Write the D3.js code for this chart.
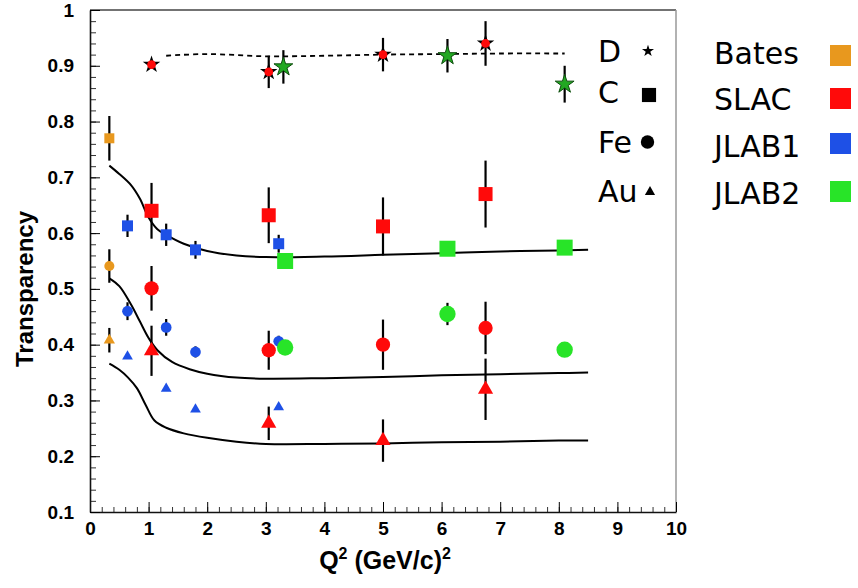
<!DOCTYPE html>
<html><head><meta charset="utf-8">
<script src="https://cdn.jsdelivr.net/npm/d3@7"></script>
<style>html,body{margin:0;padding:0;background:#fff;}svg{display:block;}</style>
</head><body>
<svg id="chart" width="858" height="588"></svg>
<script>
// ---------- data ----------
const xTickLabels = ["0","1","2","3","4","5","6","7","8","9","10"];
const yTickLabels = ["0.1","0.2","0.3","0.4","0.5","0.6","0.7","0.8","0.9","1"];

// [Q2, transparency, error]
const D_SLAC  = [[1.05,0.902,0],[3.05,0.889,0.029],[5.0,0.920,0.030],[6.75,0.940,0.040]];
const D_JLAB2 = [[3.3,0.898,0.030],[6.1,0.918,0.030],[8.1,0.867,0.033]];
const C_Bates = [[0.33,0.770,0.040]];
const C_SLAC  = [[1.05,0.640,0.050],[3.05,0.632,0.050],[5.0,0.612,0.052],[6.75,0.670,0.060]];
const C_JLAB1 = [[0.64,0.613,0.020],[1.3,0.597,0.020],[1.8,0.570,0.016],[3.22,0.581,0.016]];
const C_JLAB2 = [[3.33,0.550,0.008],[6.1,0.572,0.008],[8.1,0.574,0.008]];
const Fe_Bates = [[0.33,0.541,0.030]];
const Fe_SLAC  = [[1.05,0.501,0.040],[3.05,0.390,0.035],[5.0,0.400,0.045],[6.75,0.430,0.047]];
const Fe_JLAB1 = [[0.64,0.460,0.016],[1.3,0.431,0.015],[1.8,0.387,0.010],[3.22,0.406,0.010]];
const Fe_JLAB2 = [[3.33,0.395,0.005],[6.1,0.455,0.020],[8.1,0.391,0.005]];
const Au_Bates = [[0.33,0.408,0.022]];
const Au_SLAC  = [[1.05,0.389,0.045],[3.05,0.259,0.030],[5.0,0.228,0.038],[6.75,0.320,0.055]];
const Au_JLAB1 = [[0.64,0.379,0],[1.3,0.321,0],[1.8,0.284,0],[3.22,0.288,0]];

// theory curves [Q2, T]
const curveD  = [[1.3,0.918],[2,0.921],[3,0.917],[4,0.918],[5,0.920],[6,0.921],[7,0.922],[8.1,0.922]];
const curveC  = [[0.33,0.721],[0.5,0.706],[0.7,0.686],[0.85,0.662],[1.0,0.628],[1.15,0.607],[1.3,0.597],[1.6,0.581],[2,0.568],[2.5,0.560],[3,0.557],[4,0.558],[5,0.561],[6,0.564],[7,0.567],[8,0.569],[8.5,0.570]];
const curveFe = [[0.33,0.519],[0.5,0.505],[0.7,0.472],[0.85,0.442],[1.0,0.412],[1.15,0.390],[1.4,0.369],[1.7,0.356],[2,0.348],[2.5,0.341],[3,0.339],[4,0.340],[5,0.342],[6,0.345],[7,0.347],[8,0.349],[8.5,0.350]];
const curveAu = [[0.33,0.366],[0.5,0.355],[0.65,0.341],[0.8,0.322],[0.95,0.292],[1.1,0.264],[1.3,0.251],[1.6,0.241],[2,0.233],[2.5,0.226],[3,0.222],[4,0.222],[5,0.223],[6,0.225],[7,0.226],[8,0.228],[8.5,0.228]];

const labNames = ["Bates","SLAC","JLAB1","JLAB2"];
const labColors = ["#E8981E","#FF0A0A","#1E50E6","#28E428"];
const nucleusNames = ["D","C","Fe","Au"];

// ---------- drawing ----------
const svg = d3.select("#chart");
const x = d3.scaleLinear().domain([0,10]).range([90,676]);
const y = d3.scaleLinear().domain([0.1,1]).range([512,10]);

const tickFont = "'Liberation Sans', Arial, sans-serif";

// frame (top and right)
svg.append("line").attr("x1",x(0)).attr("x2",x(10)).attr("y1",y(1)).attr("y2",y(1)).attr("stroke","#444").attr("stroke-width",1.5);
svg.append("line").attr("x1",x(10)).attr("x2",x(10)).attr("y1",y(1)).attr("y2",y(0.1)).attr("stroke","#999").attr("stroke-width",1.5);

// minor ticks
const xMinor = d3.range(0,10.001,0.2);
const yMinor = d3.range(0.1,1.0001,0.02);
svg.append("g").attr("transform",`translate(0,${y(0.1)})`)
  .call(d3.axisBottom(x).tickValues(xMinor).tickSize(-5).tickSizeOuter(0).tickFormat(""))
  .call(g=>g.select(".domain").remove())
  .call(g=>g.selectAll("line").attr("stroke","#333"));
svg.append("g").attr("transform",`translate(${x(0)},0)`)
  .call(d3.axisLeft(y).tickValues(yMinor).tickSize(-6).tickSizeOuter(0).tickFormat(""))
  .call(g=>g.select(".domain").remove())
  .call(g=>g.selectAll("line").attr("stroke","#333"));

// major axes
const xAxis = svg.append("g").attr("transform",`translate(0,${y(0.1)})`)
  .call(d3.axisBottom(x).tickValues(d3.range(0,11)).tickSize(-10).tickSizeOuter(0).tickPadding(10)
    .tickFormat((d,i)=>xTickLabels[i]));
xAxis.select(".domain").attr("stroke","#111").attr("stroke-width",1.6);
xAxis.selectAll("text").attr("font-family",tickFont).attr("font-weight","bold").attr("font-size",19).attr("fill","#000");

const yAxis = svg.append("g").attr("transform",`translate(${x(0)},0)`)
  .call(d3.axisLeft(y).tickValues(d3.range(1,11).map(v=>v/10)).tickSize(-10).tickSizeOuter(0).tickPadding(16)
    .tickFormat((d,i)=>yTickLabels[i]));
yAxis.select(".domain").attr("stroke","#111").attr("stroke-width",1.6);
yAxis.selectAll("text").attr("font-family",tickFont).attr("font-weight","bold").attr("font-size",19).attr("fill","#000");

// axis titles
const xt = svg.append("text").attr("x",385).attr("y",569).attr("text-anchor","middle")
  .attr("font-family",tickFont).attr("font-weight","bold").attr("font-size",25).attr("fill","#000");
xt.append("tspan").text("Q");
xt.append("tspan").attr("font-size",16).attr("dy",-10).text("2");
xt.append("tspan").attr("dy",10).text(" (GeV/c)");
xt.append("tspan").attr("font-size",16).attr("dy",-10).text("2");

svg.append("text").attr("transform","translate(33,289) rotate(-90)").attr("text-anchor","middle")
  .attr("font-family",tickFont).attr("font-weight","bold").attr("font-size",24).attr("fill","#000")
  .text("Transparency");

// curves
const line = d3.line().x(d=>x(d[0])).y(d=>y(d[1])).curve(d3.curveCatmullRom);
[curveC,curveFe,curveAu].forEach(c=>{
  svg.append("path").attr("d",line(c)).attr("fill","none").attr("stroke","#000").attr("stroke-width",2);
});
svg.append("path").attr("d",line(curveD)).attr("fill","none").attr("stroke","#000")
  .attr("stroke-width",1.8).attr("stroke-dasharray","5,4");

// error bars
const allSeries = [D_SLAC,D_JLAB2,C_Bates,C_SLAC,C_JLAB1,C_JLAB2,Fe_Bates,Fe_SLAC,Fe_JLAB1,Fe_JLAB2,Au_Bates,Au_SLAC,Au_JLAB1];
const gErr = svg.append("g");
allSeries.forEach(s=>s.filter(d=>d[2]>0).forEach(d=>{
  gErr.append("line").attr("x1",x(d[0])).attr("x2",x(d[0])).attr("y1",y(d[1]-d[2])).attr("y2",y(d[1]+d[2]))
    .attr("stroke","#000").attr("stroke-width",2.2);
}));

// markers
const gM = svg.append("g");
function drawSym(data,type,size,fill,stroke,sw){
  gM.selectAll(null).data(data).enter().append("path")
    .attr("transform",d=>`translate(${x(d[0])},${y(d[1])})`)
    .attr("d",d3.symbol().type(type).size(size))
    .attr("fill",fill).attr("stroke",stroke||"none").attr("stroke-width",sw||0);
}
const tri = d3.symbolTriangle;
// squares
drawSym(C_Bates,d3.symbolSquare,100,labColors[0]);
drawSym(C_JLAB1,d3.symbolSquare,121,labColors[2]);
drawSym(C_SLAC,d3.symbolSquare,196,labColors[1]);
drawSym(C_JLAB2,d3.symbolSquare,256,labColors[3]);
// circles
drawSym(Fe_Bates,d3.symbolCircle,80,labColors[0]);
drawSym(Fe_JLAB1,d3.symbolCircle,90,labColors[2]);
drawSym(Fe_SLAC,d3.symbolCircle,160,labColors[1]);
drawSym(Fe_JLAB2,d3.symbolCircle,210,labColors[3]);
// triangles
drawSym(Au_Bates,tri,55,labColors[0]);
drawSym(Au_JLAB1,tri,50,labColors[2]);
drawSym(Au_SLAC,tri,100,labColors[1]);
// stars
drawSym(D_SLAC,d3.symbolStar,95,"#000");
drawSym(D_SLAC,d3.symbolCircle,60,labColors[1]);
drawSym(D_JLAB2,d3.symbolStar,110,"#22A822","#0d4d0d",1);

// legend: nuclei
const legFont = "'DejaVu Sans', sans-serif";
const nucY = [62,103,153,202];
const nucSym = [d3.symbolStar,d3.symbolSquare,d3.symbolCircle,tri];
const nucSize = [45,200,140,45];
const nucSymX = [648,649,647.5,650];
const nucSymY = [51,95,142,192];
nucleusNames.forEach((n,i)=>{
  svg.append("text").attr("x",598).attr("y",nucY[i]).attr("font-family",legFont).attr("font-size",30).attr("fill","#000").text(n);
  svg.append("path").attr("transform",`translate(${nucSymX[i]},${nucSymY[i]})`)
    .attr("d",d3.symbol().type(nucSym[i]).size(nucSize[i])).attr("fill","#000");
});
// legend: labs
const labY = [64,110,157,204];
const labBoxY = [45,88,133,181];
labNames.forEach((n,i)=>{
  svg.append("text").attr("x",714).attr("y",labY[i]).attr("font-family",legFont).attr("font-size",30).attr("fill","#000").text(n);
  svg.append("rect").attr("x",830).attr("y",labBoxY[i]).attr("width",21).attr("height",21).attr("fill",labColors[i]);
});
</script>
</body></html>
